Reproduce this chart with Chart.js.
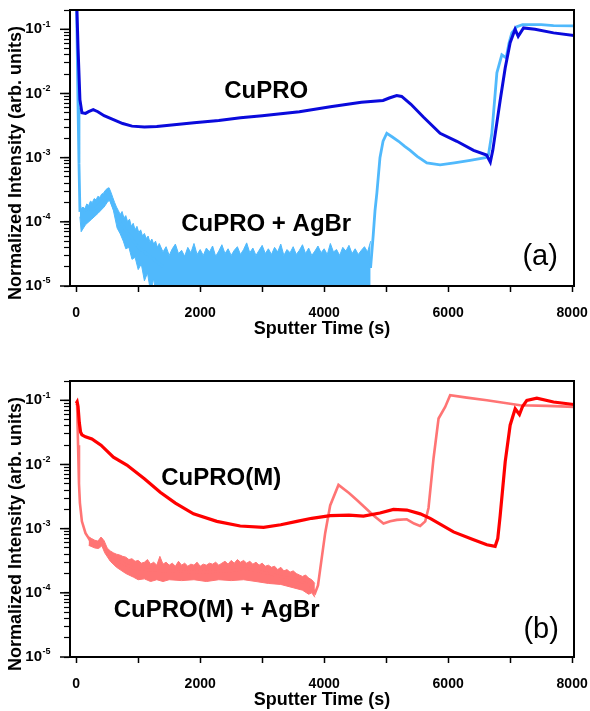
<!DOCTYPE html>
<html>
<head>
<meta charset="utf-8">
<script src="https://cdn.jsdelivr.net/npm/chart.js@4.4.1/dist/chart.umd.min.js"></script>
<style>
  html, body { margin: 0; padding: 0; background: #fff; }
  #wrap { position: relative; width: 590px; height: 711px; }
  canvas { position: absolute; left: 0; }
  #chartA { top: 0; }
  #chartB { top: 340px; }
</style>
</head>
<body>
<div id="wrap">
  <canvas id="chartA" width="590" height="340"></canvas>
  <canvas id="chartB" width="590" height="371"></canvas>
</div>
<script>
// ---- axis ticks (both panels) ----
const xTickValues = [0, 1000, 2000, 3000, 4000, 5000, 6000, 7000, 8000];
const xLabelValues = [0, 2000, 4000, 6000, 8000];
const yExponents = [-5, -4, -3, -2, -1];
const yTickValues = [
  1e-5, 2e-5, 3e-5, 4e-5, 5e-5, 6e-5, 7e-5, 8e-5, 9e-5,
  1e-4, 2e-4, 3e-4, 4e-4, 5e-4, 6e-4, 7e-4, 8e-4, 9e-4,
  1e-3, 2e-3, 3e-3, 4e-3, 5e-3, 6e-3, 7e-3, 8e-3, 9e-3,
  1e-2, 2e-2, 3e-2, 4e-2, 5e-2, 6e-2, 7e-2, 8e-2, 9e-2,
  1e-1, 2e-1
];

// ---- panel (a) ----
// CuPRO
const aCuX = [0, 30, 60, 92, 150, 200, 275, 350, 450, 600, 750, 900, 1100, 1300, 1500, 1900, 2300, 2650, 3000, 3600,
  4100, 4600, 4950, 5050, 5170, 5250, 5400, 5600, 5870, 6140, 6410, 6620, 6680, 6720, 6840, 6920, 7000, 7080, 7130, 7216,
  7400, 7700, 8030];
const aCuY = [0.5, 0.05, 8e-3, 5.0e-3, 4.9e-3, 5.2e-3, 5.6e-3, 5.2e-3, 4.5e-3, 3.9e-3, 3.4e-3, 3.1e-3, 3.0e-3, 3.05e-3, 3.2e-3, 3.5e-3, 3.8e-3, 4.2e-3, 4.5e-3, 5.2e-3,
  6.2e-3, 7.3e-3, 7.8e-3, 8.5e-3, 9.3e-3, 9.0e-3, 6.8e-3, 4.3e-3, 2.4e-3, 1.8e-3, 1.3e-3, 1.1e-3, 8.5e-4, 1.3e-3, 7.9e-3, 0.025, 0.062, 0.1, 0.078, 0.105,
  0.1, 0.088, 0.080];

// CuPRO + AgBr (centre line)
const aAgX = [0, 15, 30, 45, 60, 300, 520, 700, 1000, 1400, 4750, 4790, 4820, 4850, 4900, 4950, 5010, 5100, 5200, 5300,
  5387, 5500, 5656, 5870, 6100, 6355, 6600, 6650, 6705, 6786, 6866, 6936, 6980, 7027, 7108, 7200, 7500, 7700, 8030];
const aAgY = [0.5, 0.06, 6e-3, 8e-4, 1.5e-4, 1.6e-4, 2.6e-4, 1e-4, 4e-5, 2e-5, 2e-5, 6e-5, 1.5e-4, 2.8e-4, 1.0e-3, 1.8e-3, 2.4e-3, 2.1e-3, 1.8e-3, 1.5e-3,
  1.3e-3, 1.05e-3, 8.3e-4, 7.7e-4, 8.3e-4, 9.1e-4, 1.0e-3, 1.1e-3, 2.4e-3, 0.021, 0.040, 0.036, 0.06, 0.088, 0.11, 0.118, 0.118, 0.114, 0.113];

// CuPRO + AgBr noise band: upper edge
const aBandX = [60, 80, 110, 140, 170, 200, 230, 260, 290, 320, 350, 380, 410, 440, 470, 500, 530, 560, 590, 620,
  650, 680, 710, 740, 770, 800, 830, 860, 890, 920, 950, 980, 1010, 1040, 1070, 1100, 1130, 1160, 1190, 1220,
  1250, 1280, 1310, 1340,
  1400, 1450, 1500, 1550, 1600, 1650, 1700, 1750, 1800, 1850, 1900, 1950, 2000, 2050, 2100, 2150, 2200, 2250, 2300, 2350,
  2400, 2450, 2500, 2550, 2600, 2650, 2700, 2750, 2800, 2850, 2900, 2950, 3000, 3050, 3100, 3150, 3200, 3250, 3300, 3350,
  3400, 3450, 3500, 3550, 3600, 3650, 3700, 3750, 3800, 3850, 3900, 3950, 4000, 4050, 4100, 4150, 4200, 4250, 4300, 4350,
  4400, 4450, 4500, 4550, 4600, 4650, 4700, 4750];
const aBandHi = [2.0e-4, 1.6e-4, 1.7e-4, 1.6e-4, 1.9e-4, 1.8e-4, 2.1e-4, 2.0e-4, 2.3e-4, 2.2e-4, 2.5e-4, 2.4e-4, 2.7e-4, 2.8e-4, 3.1e-4, 3.3e-4, 3.4e-4, 2.9e-4, 2.4e-4, 2.0e-4,
  1.7e-4, 1.5e-4, 1.3e-4, 1.45e-4, 1.15e-4, 1.25e-4, 1.0e-4, 1.1e-4, 8.5e-5, 9.5e-5, 7.5e-5, 8.5e-5, 6.8e-5, 7.5e-5, 6.0e-5, 6.6e-5, 5.5e-5, 6.0e-5, 4.8e-5, 5.4e-5,
  4.5e-5, 5.0e-5, 4.0e-5, 4.6e-5,
  3.4e-5, 4.1e-5, 3.0e-5, 3.8e-5, 4.5e-5, 3.2e-5, 3.6e-5, 2.9e-5, 4.0e-5, 3.3e-5, 4.6e-5, 3.1e-5, 3.7e-5, 3.0e-5, 3.9e-5, 3.4e-5, 4.2e-5, 2.9e-5, 3.5e-5, 4.4e-5,
  3.2e-5, 3.8e-5, 3.0e-5, 3.6e-5, 4.1e-5, 3.1e-5, 3.7e-5, 4.7e-5, 3.3e-5, 3.9e-5, 3.0e-5, 3.6e-5, 4.3e-5, 3.2e-5, 3.8e-5, 3.1e-5, 4.0e-5, 3.4e-5, 4.5e-5, 3.0e-5,
  3.7e-5, 3.3e-5, 4.1e-5, 3.1e-5, 3.6e-5, 4.4e-5, 3.2e-5, 3.9e-5, 3.0e-5, 3.5e-5, 4.2e-5, 3.3e-5, 3.8e-5, 3.1e-5, 4.6e-5, 3.4e-5, 3.7e-5, 3.0e-5, 4.0e-5, 3.5e-5,
  4.3e-5, 3.2e-5, 3.8e-5, 3.1e-5, 3.6e-5, 4.1e-5, 3.4e-5, 5.0e-5];
// CuPRO + AgBr noise band: lower edge
const aLoX = [60, 80, 150, 250, 350, 450, 500, 540, 600, 660, 710, 760, 800, 850, 900, 950, 1000, 1050, 1100, 1150,
  1200, 1250, 1300, 1350, 1400, 4750];
const aLoY = [1.2e-4, 7e-5, 9e-5, 1.1e-4, 1.35e-4, 1.7e-4, 2.0e-4, 2.2e-4, 1.5e-4, 8e-5, 6.5e-5, 5.0e-5, 3.8e-5, 4.0e-5, 2.6e-5, 2.8e-5, 1.8e-5, 2.2e-5, 1.2e-5, 1.6e-5,
  8e-6, 1.3e-5, 6e-6, 9e-6, 5e-6, 5e-6];

// ---- panel (b) ----
// CuPRO(M)
const bCuX = [0, 15, 30, 50, 70, 92, 150, 253, 400, 600, 817, 1100, 1355, 1600, 1892, 2269, 2645, 3022, 3300, 3559,
  3800, 4097, 4400, 4634, 4900, 5118, 5333, 5550, 5710, 6086, 6400, 6624, 6758, 6800, 6839, 6920, 7000, 7081, 7150, 7200,
  7269, 7430, 7700, 8030];
const bCuY = [0.09, 0.095, 0.08, 0.045, 0.032, 0.029, 0.027, 0.025, 0.02, 0.013, 9.8e-3, 6.0e-3, 3.7e-3, 2.5e-3, 1.7e-3, 1.3e-3, 1.1e-3, 1.05e-3, 1.15e-3, 1.3e-3,
  1.45e-3, 1.6e-3, 1.62e-3, 1.57e-3, 1.75e-3, 2.0e-3, 1.95e-3, 1.7e-3, 1.45e-3, 8.9e-4, 6.8e-4, 5.6e-4, 5.3e-4, 7e-4, 1.6e-3, 0.011, 0.041, 0.074, 0.060, 0.08,
  0.1, 0.108, 0.094, 0.086];

// CuPRO(M) + AgBr (centre line)
const bAgX = [0, 15, 30, 45, 60, 92, 150, 226, 300, 360, 414, 460, 548, 700, 925, 1355, 2000, 2500, 2700, 3022,
  3300, 3559, 3774, 3855, 3900, 3935, 4016, 4097, 4231, 4400, 4527, 4796, 4957, 5065, 5172, 5333, 5450, 5548, 5630, 5683,
  5764, 5845, 5952, 6032, 6300, 6624, 7161, 7600, 8030];
const bAgY = [0.09, 0.085, 0.02, 5e-3, 2.5e-3, 1.3e-3, 8.5e-4, 6.5e-4, 5.8e-4, 5.6e-4, 6.5e-4, 5e-4, 3.8e-4, 3.1e-4, 2.4e-4, 2.2e-4, 2.1e-4, 2.2e-4, 2.4e-4, 2.1e-4,
  1.8e-4, 1.6e-4, 1.3e-4, 1.0e-4, 1.3e-4, 2.3e-4, 8.5e-4, 2.3e-3, 4.8e-3, 3.6e-3, 2.8e-3, 1.6e-3, 1.2e-3, 1.3e-3, 1.37e-3, 1.4e-3, 1.2e-3, 1.1e-3, 1.3e-3, 2.1e-3,
  0.0124, 0.052, 0.079, 0.12, 0.11, 0.1, 0.084, 0.082, 0.079];

// CuPRO(M) + AgBr noise band: upper edge
const bBandX = [200, 250, 300, 350, 400, 450, 500, 550, 600, 650, 700, 750, 800, 850, 900, 950, 1000, 1050, 1100, 1150,
  1200, 1250, 1300, 1350, 1400, 1450, 1500, 1550, 1600, 1650, 1700, 1750, 1800, 1850, 1900, 1950, 2000, 2050, 2100, 2150,
  2200, 2250, 2300, 2350, 2400, 2450, 2500, 2550, 2600, 2650, 2700, 2750, 2800, 2850, 2900, 2950, 3000, 3050, 3100, 3150,
  3200, 3250, 3300, 3350, 3400, 3450, 3500, 3550, 3600, 3650, 3700, 3750, 3800, 3850];
const bBandHi = [7.5e-4, 7.0e-4, 6.6e-4, 6.4e-4, 7.4e-4, 6.5e-4, 5.0e-4, 4.5e-4, 4.2e-4, 4.0e-4, 3.9e-4, 3.7e-4, 3.6e-4, 3.3e-4, 3.4e-4, 3.1e-4, 3.2e-4, 2.9e-4, 3.0e-4, 3.3e-4,
  2.8e-4, 3.0e-4, 2.7e-4, 3.7e-4, 2.8e-4, 3.0e-4, 2.7e-4, 2.9e-4, 2.6e-4, 3.1e-4, 2.7e-4, 2.9e-4, 2.6e-4, 2.8e-4, 2.7e-4, 3.0e-4, 2.6e-4, 2.8e-4, 2.7e-4, 2.9e-4,
  2.8e-4, 3.0e-4, 2.7e-4, 2.9e-4, 3.1e-4, 2.8e-4, 3.2e-4, 2.9e-4, 3.3e-4, 3.0e-4, 3.2e-4, 2.9e-4, 3.1e-4, 2.8e-4, 3.0e-4, 2.7e-4, 2.9e-4, 2.6e-4, 2.7e-4, 2.5e-4,
  2.6e-4, 2.3e-4, 2.5e-4, 2.2e-4, 2.3e-4, 2.1e-4, 2.2e-4, 2.0e-4, 1.9e-4, 1.8e-4, 1.9e-4, 1.7e-4, 1.6e-4, 1.4e-4];
// CuPRO(M) + AgBr noise band: lower edge
const bLoX = [200, 300, 360, 414, 460, 550, 650, 800, 925, 1000, 1100, 1200, 1300, 1400, 1500, 1700, 1900, 2100, 2300, 2500,
  2700, 2900, 3100, 3300, 3500, 3650, 3750, 3800, 3850];
const bLoY = [5.5e-4, 5.0e-4, 4.9e-4, 5.4e-4, 4.2e-4, 3.1e-4, 2.5e-4, 2.0e-4, 1.75e-4, 1.6e-4, 1.65e-4, 1.5e-4, 1.6e-4, 1.5e-4, 1.6e-4, 1.55e-4, 1.6e-4, 1.5e-4, 1.6e-4, 1.55e-4,
  1.6e-4, 1.5e-4, 1.4e-4, 1.35e-4, 1.2e-4, 1.1e-4, 9.5e-5, 1.0e-4, 8.5e-5];

// text placed in data coordinates
const notesA = [
  { text: 'CuPRO', at: [3065, 0.0106], kind: 'curve' },
  { text: 'CuPRO + AgBr', at: [3065, 9.2e-5], kind: 'curve' },
  { text: '(a)', at: [7484, 2.8e-5], kind: 'panel' }
];
const notesB = [
  { text: 'CuPRO(M)', at: [2339, 6.1e-3], kind: 'curve' },
  { text: 'CuPRO(M) + AgBr', at: [2266, 5.25e-5], kind: 'curve' },
  { text: '(b)', at: [7500, 2.65e-5], kind: 'panel' }
];

const FONT = '"Liberation Sans", Arial, Helvetica, sans-serif';
Chart.defaults.font.family = FONT;
Chart.defaults.color = '#000';

function pts(xs, ys) {
  return xs.map((x, i) => ({ x: x, y: ys[i] }));
}

function line(data, color, width, extra) {
  return Object.assign({
    data: data, borderColor: color, backgroundColor: color, borderWidth: width,
    pointRadius: 0, tension: 0, fill: false, clip: 0
  }, extra || {});
}

// frame, superscript y labels, y title and curve labels
const decor = {
  id: 'decor',
  afterDraw(chart, args, opts) {
    const ctx = chart.ctx, a = chart.chartArea;
    const xs = chart.scales.x, ys = chart.scales.y;
    ctx.save();
    ctx.strokeStyle = '#000';
    ctx.lineWidth = 2;
    ctx.strokeRect(a.left, a.top, a.right - a.left, a.bottom - a.top);

    ctx.fillStyle = '#000';
    ctx.textBaseline = 'middle';
    yExponents.forEach(e => {
      const py = ys.getPixelForValue(Math.pow(10, e));
      ctx.lineWidth = 1.5;
      ctx.beginPath();
      ctx.moveTo(a.left - 10, py);
      ctx.lineTo(a.left, py);
      ctx.stroke();
      const sup = String(e);
      ctx.textAlign = 'left';
      ctx.font = 'bold 15px ' + FONT;
      const w10 = ctx.measureText('10').width;
      ctx.font = 'bold 9px ' + FONT;
      const wSup = ctx.measureText(sup).width;
      const x0 = a.left - 20 - wSup - w10;
      ctx.fillText(sup, x0 + w10 + 0.5, py - 5);
      ctx.font = 'bold 15px ' + FONT;
      ctx.fillText('10', x0, py);
    });

    ctx.save();
    ctx.translate(16, (a.top + a.bottom) / 2 + 15);
    ctx.rotate(-Math.PI / 2);
    ctx.textAlign = 'center';
    ctx.font = 'bold 18px ' + FONT;
    ctx.fillText('Normalized Intensity (arb. units)', 0, 0);
    ctx.restore();

    (opts.notes || []).forEach(n => {
      ctx.textAlign = 'center';
      ctx.font = n.kind === 'panel' ? '29px ' + FONT : 'bold 24px ' + FONT;
      ctx.fillText(n.text, xs.getPixelForValue(n.at[0]), ys.getPixelForValue(n.at[1]));
    });
    ctx.restore();
  }
};
Chart.register(decor);

function panelOptions(padTop, notes) {
  return {
    responsive: false,
    animation: false,
    layout: { padding: { top: padTop, right: 16, left: 0, bottom: 0 } },
    plugins: { legend: { display: false }, tooltip: { enabled: false }, decor: { notes: notes } },
    scales: {
      x: {
        type: 'linear', min: -100, max: 8030,
        afterBuildTicks: s => { s.ticks = xTickValues.map(v => ({ value: v })); },
        afterFit: s => { s.height = 54; s.paddingLeft = 0; s.paddingRight = 0; },
        ticks: {
          autoSkip: false, maxRotation: 0, padding: 13, color: '#000',
          font: { size: 14, weight: 'bold' },
          callback: v => xLabelValues.includes(v) ? String(v) : ''
        },
        grid: { display: true, drawOnChartArea: false, drawTicks: true, tickLength: 6, tickColor: '#000', tickWidth: 1.5 },
        border: { display: true, color: '#000', width: 2 },
        title: {
          display: true, text: 'Sputter Time (s)', color: '#000',
          font: { size: 18, weight: 'bold' }, padding: { top: 0, bottom: 0 }
        }
      },
      y: {
        type: 'logarithmic', min: 1e-5, max: 0.2,
        afterBuildTicks: s => { s.ticks = yTickValues.map(v => ({ value: v })); },
        afterFit: s => { s.width = 70; },
        ticks: { display: false },
        grid: { display: true, drawOnChartArea: false, drawTicks: true, tickLength: 6, tickColor: '#000', tickWidth: 1.2 },
        border: { display: true, color: '#000', width: 2 }
      }
    }
  };
}

const BLUE = '#0a0adc', LIGHTBLUE = '#50b9fc', RED = '#ff0000', LIGHTRED = '#ff7474';

new Chart(document.getElementById('chartA'), {
  type: 'line',
  data: {
    datasets: [
      line(pts(aCuX, aCuY), BLUE, 3),
      line(pts(aAgX, aAgY), LIGHTBLUE, 2.8),
      line(pts(aBandX, aBandHi), LIGHTBLUE, 1, { fill: '+1' }),
      line(pts(aLoX, aLoY), LIGHTBLUE, 1)
    ]
  },
  options: panelOptions(10, notesA)
});

new Chart(document.getElementById('chartB'), {
  type: 'line',
  data: {
    datasets: [
      line(pts(bCuX, bCuY), RED, 3.2),
      line(pts(bAgX, bAgY), LIGHTRED, 2.6),
      line(pts(bBandX, bBandHi), LIGHTRED, 1, { fill: '+1' }),
      line(pts(bLoX, bLoY), LIGHTRED, 1)
    ]
  },
  options: panelOptions(41, notesB)
});
</script>
</body>
</html>
